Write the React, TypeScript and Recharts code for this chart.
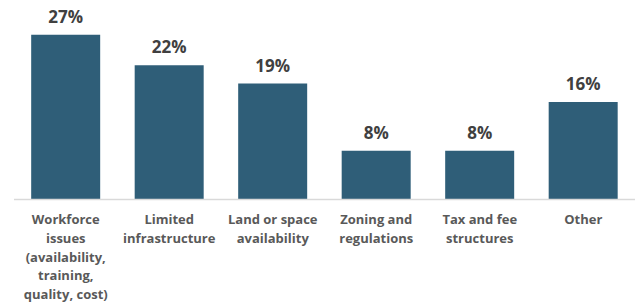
import { BarChart, Bar, XAxis, YAxis, LabelList } from 'recharts';

// 카테고리 / 값
const categories = [
  'Workforce issues (availability, training, quality, cost)',
  'Limited infrastructure',
  'Land or space availability',
  'Zoning and regulations',
  'Tax and fee structures',
  'Other',
];
const values = [27, 22, 19, 8, 8, 16];

// 축 라벨 줄바꿈
const tickLines = [
  ['Workforce', 'issues', '(availability,', 'training,', 'quality, cost)'],
  ['Limited', 'infrastructure'],
  ['Land or space', 'availability'],
  ['Zoning and', 'regulations'],
  ['Tax and fee', 'structures'],
  ['Other'],
];

const data = categories.map((name, i) => ({ name, value: values[i] }));

const FONT = '"Open Sans", sans-serif';

const CategoryTick = (props: any) => {
  const { x, y, index } = props;
  const lines = tickLines[index] || [];
  return (
    <text
      x={x}
      y={y}
      textAnchor="middle"
      fill="#595959"
      fontFamily={FONT}
      fontWeight={700}
      fontSize={13}
    >
      {lines.map((l, i) => (
        <tspan key={i} x={x} dy={i === 0 ? 16.5 : 18.8}>
          {l}
        </tspan>
      ))}
    </text>
  );
};

export default function App() {
  return (
    <div style={{ position: 'absolute', left: 0, top: 0, width: 641, height: 305, background: '#fff' }}>
      <BarChart
        width={641}
        height={305}
        data={data}
        margin={{ top: 16.5, right: 6, bottom: 0, left: 14 }}
        barCategoryGap="16.6%"
      >
        <XAxis
          dataKey="name"
          tickLine={false}
          axisLine={{ stroke: '#d9d9d9', strokeWidth: 1.5 }}
          tick={<CategoryTick />}
          interval={0}
          height={105.5}
        />
        <YAxis hide domain={[0, 30]} />
        <Bar dataKey="value" fill="#2f5e78" isAnimationActive={false}>
          <LabelList
            dataKey="value"
            position="top"
            offset={12}
            formatter={(v: any) => `${v}%`}
            fill="#404040"
            fontFamily={FONT}
            fontWeight={700}
            fontSize={17}
          />
        </Bar>
      </BarChart>
    </div>
  );
}
